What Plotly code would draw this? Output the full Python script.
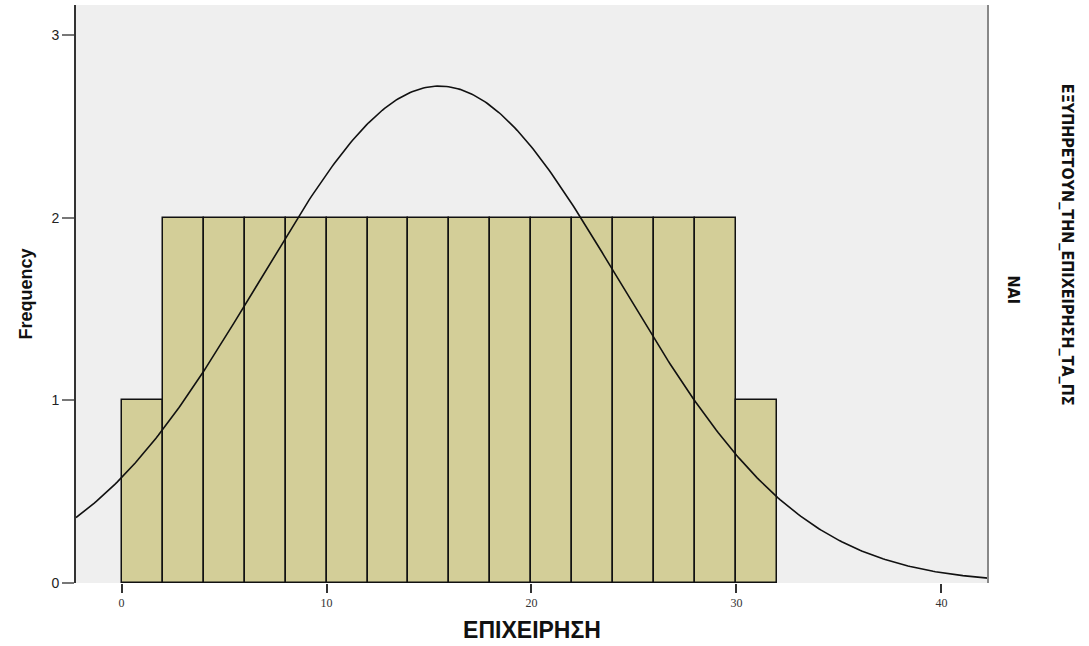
import numpy as np
import plotly.graph_objects as go

# Histogram data
bin_starts = [0, 2, 4, 6, 8, 10, 12, 14, 16, 18, 20, 22, 24, 26, 28, 30]
counts = [1, 2, 2, 2, 2, 2, 2, 2, 2, 2, 2, 2, 2, 2, 2, 1]
bin_width = 2
# Normal-curve parameters (SPSS overlay)
mean_val = 15.5
std_val = 8.80
n_total = sum(counts)

x_ticks = [0, 10, 20, 30, 40]
y_ticks = [0, 1, 2, 3]
x_title = "ΕΠΙΧΕΙΡΗΣΗ"
y_title = "Frequency"
panel_title = "ΕΞΥΠΗΡΕΤΟΥΝ_ΤΗΝ_ΕΠΙΧΕΙΡΗΣΗ_ΤΑ_ΠΣ"
panel_value = "ΝΑΙ"

x_range = [-2.22, 42.27]
centers = [s + bin_width / 2 for s in bin_starts]

xs = np.linspace(x_range[0], x_range[1], 400)
ys = n_total * bin_width / (std_val * np.sqrt(2 * np.pi)) * np.exp(-((xs - mean_val) ** 2) / (2 * std_val ** 2))

fig = go.Figure()
fig.add_trace(go.Bar(
    x=centers, y=counts, width=bin_width,
    marker=dict(color="#d3ce98", line=dict(color="#111111", width=1.5)),
    showlegend=False, hoverinfo="skip",
))
fig.add_trace(go.Scatter(
    x=xs, y=ys, mode="lines",
    line=dict(color="#111111", width=1.6),
    showlegend=False, hoverinfo="skip",
))

fig.update_layout(
    width=1089, height=646,
    margin=dict(l=76, r=101, t=5, b=63),
    paper_bgcolor="white",
    plot_bgcolor="#efefef",
    bargap=0,
    font=dict(family="Liberation Sans, Arial, sans-serif", color="#222222"),
    xaxis=dict(
        range=x_range, tickvals=x_ticks, ticks="outside", ticklen=9,
        tickwidth=2, tickcolor="#333333", showgrid=False, zeroline=False,
        showline=False, tickfont=dict(size=12, family="Liberation Serif, serif", color="#333333"),
        title=dict(text="<b>" + x_title + "</b>", font=dict(size=23, family="Liberation Sans, Arial", color="#111111"), standoff=12),
    ),
    yaxis=dict(
        range=[0, 3.164], tickvals=y_ticks, ticks="outside", ticklen=12,
        tickwidth=1.5, tickcolor="#777777", showgrid=False, zeroline=False,
        showline=True, linecolor="#333333", linewidth=2,
        tickfont=dict(size=14, family="Liberation Sans, Arial", color="#222222"),
        title=dict(text="<b>" + y_title + "</b>", font=dict(size=18, family="Liberation Sans, Arial", color="#111111"), standoff=14),
    ),
    shapes=[dict(type="line", xref="paper", yref="paper", x0=1, x1=1, y0=0, y1=1,
                 line=dict(color="#888888", width=2))],
    annotations=[
        dict(text="<b>" + panel_title + "</b>", xref="paper", yref="paper",
             x=1.0, xanchor="left", xshift=68, y=0.586, yanchor="middle",
             textangle=90, showarrow=False,
             font=dict(size=16, family="Liberation Sans Narrow, DejaVu Sans Condensed, Arial", color="#111111")),
        dict(text="<b>" + panel_value + "</b>", xref="paper", yref="paper",
             x=1.0, xanchor="left", xshift=14, y=0.507, yanchor="middle",
             textangle=90, showarrow=False,
             font=dict(size=16, family="Liberation Sans Narrow, DejaVu Sans Condensed, Arial", color="#111111")),
    ],
)

fig.write_html("out.html")
